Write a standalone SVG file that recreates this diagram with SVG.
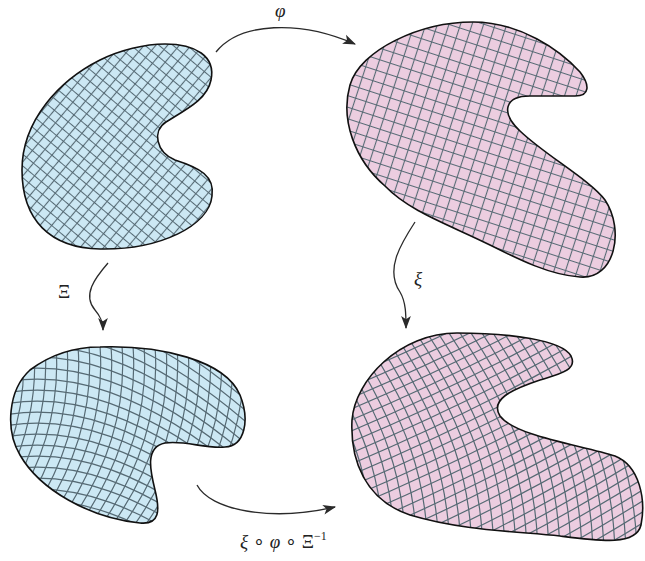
<svg xmlns="http://www.w3.org/2000/svg" xmlns:xlink="http://www.w3.org/1999/xlink" width="645" height="561" viewBox="0 0 645 561">
<style>
.outline{fill:none;stroke:#111;stroke-width:1.6}
.gl{fill:none;stroke:#566a74;stroke-width:1.2}
.conn{fill:none;stroke:#2a2a2a;stroke-width:1.3}
.lbl{font-family:"Liberation Serif",serif;font-size:19px;fill:#222}
.it{font-style:italic}
</style>
<defs>
<path id="s1" d="M 165,44 C 195,44 216,56 211,80 C 207,100 185,110 166,122 C 152,131 156,152 175,160 C 200,168 215,176 212,196 C 209,226 160,250 100,249 C 50,248 22,220 22,170 C 22,120 60,80 100,60 C 120,50 145,44 165,44 Z"/>
<path id="s2" d="M 473,22 C 520,22 560,50 580,72 C 590,85 590,96 575,96 L 530,96 C 505,96 500,112 520,131 C 545,155 590,180 605,200 C 625,230 615,280 580,277 C 550,275 520,260 490,245 C 450,225 410,212 385,186 C 355,160 340,120 350,85 C 360,50 420,22 473,22 Z"/>
<path id="s3" d="M 100,347 C 160,345 225,360 240,395 C 250,420 245,446 225,447 C 205,449 185,440 165,443 C 145,447 150,470 155,490 C 160,510 160,525 140,523 C 90,518 40,490 20,455 C 5,430 8,390 30,370 C 50,355 75,347 100,347 Z"/>
<path id="s4" d="M 457,333 C 510,333 562,340 571,356 C 578,370 560,374 540,380 C 510,390 490,400 500,416 C 515,436 580,445 615,456 C 640,466 646,500 641,525 C 636,546 600,541 560,536 C 510,531 460,530 410,515 C 365,500 350,460 352,420 C 355,380 400,333 457,333 Z"/>
<clipPath id="c3"><use xlink:href="#s3"/></clipPath>
<clipPath id="c4"><use xlink:href="#s4"/></clipPath>
<pattern id="g1" width="9" height="9" patternUnits="userSpaceOnUse" patternTransform="rotate(40)">
<rect width="9" height="9" fill="#cce8f4"/><path d="M0,4.5H9M4.5,0V9" stroke="#566a74" stroke-width="1.1"/>
</pattern>
<pattern id="g2" width="11" height="11" patternUnits="userSpaceOnUse" patternTransform="rotate(18)">
<rect width="11" height="11" fill="#eccde0"/><path d="M0,5.5H11M5.5,0V11" stroke="#566a74" stroke-width="1.1"/>
</pattern>
<path id="a3" class="gl" d="M 0,335 Q 12,440 -60,535"/>
<path id="b3" class="gl" d="M -20,0 C 60,-25 150,0 270,110"/>
<path id="a4" class="gl" d="M 0,560 C 0,480 -20,420 -80,330"/>
<path id="b4" class="gl" d="M 330,0 C 450,-50 550,-100 660,-170"/>
<marker id="ah" viewBox="0 0 12 10" refX="11" refY="5" markerWidth="13" markerHeight="11" markerUnits="userSpaceOnUse" orient="auto">
<path d="M0,0.5 L12,5 L0,9.5 L3,5 Z" fill="#2a2a2a"/>
</marker>
</defs>

<g id="node-top-left">
<use xlink:href="#s1" fill="url(#g1)"/>
<use xlink:href="#s1" class="outline"/>
</g>

<g id="node-top-right">
<use xlink:href="#s2" fill="url(#g2)"/>
<use xlink:href="#s2" class="outline"/>
</g>

<g id="node-bottom-left">
<use xlink:href="#s3" fill="#cce8f4"/>
<g clip-path="url(#c3)">
<use xlink:href="#a3" x="0"/><use xlink:href="#a3" x="11"/><use xlink:href="#a3" x="22"/><use xlink:href="#a3" x="33"/><use xlink:href="#a3" x="44"/><use xlink:href="#a3" x="55"/><use xlink:href="#a3" x="66"/><use xlink:href="#a3" x="77"/><use xlink:href="#a3" x="88"/><use xlink:href="#a3" x="99"/><use xlink:href="#a3" x="110"/><use xlink:href="#a3" x="121"/><use xlink:href="#a3" x="132"/><use xlink:href="#a3" x="143"/><use xlink:href="#a3" x="154"/><use xlink:href="#a3" x="165"/><use xlink:href="#a3" x="176"/><use xlink:href="#a3" x="187"/><use xlink:href="#a3" x="198"/><use xlink:href="#a3" x="209"/><use xlink:href="#a3" x="220"/><use xlink:href="#a3" x="231"/><use xlink:href="#a3" x="242"/><use xlink:href="#a3" x="253"/><use xlink:href="#a3" x="264"/><use xlink:href="#a3" x="275"/><use xlink:href="#a3" x="286"/><use xlink:href="#a3" x="297"/><use xlink:href="#a3" x="308"/>
<use xlink:href="#b3" y="300"/><use xlink:href="#b3" y="311"/><use xlink:href="#b3" y="322"/><use xlink:href="#b3" y="333"/><use xlink:href="#b3" y="344"/><use xlink:href="#b3" y="355"/><use xlink:href="#b3" y="366"/><use xlink:href="#b3" y="377"/><use xlink:href="#b3" y="388"/><use xlink:href="#b3" y="399"/><use xlink:href="#b3" y="410"/><use xlink:href="#b3" y="421"/><use xlink:href="#b3" y="432"/><use xlink:href="#b3" y="443"/><use xlink:href="#b3" y="454"/><use xlink:href="#b3" y="465"/><use xlink:href="#b3" y="476"/><use xlink:href="#b3" y="487"/><use xlink:href="#b3" y="498"/><use xlink:href="#b3" y="509"/><use xlink:href="#b3" y="520"/><use xlink:href="#b3" y="531"/>
<use xlink:href="#b3" y="289"/><use xlink:href="#b3" y="278"/><use xlink:href="#b3" y="267"/><use xlink:href="#b3" y="256"/><use xlink:href="#b3" y="245"/><use xlink:href="#b3" y="234"/>
</g>
<use xlink:href="#s3" class="outline"/>
</g>

<g id="node-bottom-right">
<use xlink:href="#s4" fill="#eccde0"/>
<g clip-path="url(#c4)">
<use xlink:href="#a4" x="340"/><use xlink:href="#a4" x="351"/><use xlink:href="#a4" x="362"/><use xlink:href="#a4" x="373"/><use xlink:href="#a4" x="384"/><use xlink:href="#a4" x="395"/><use xlink:href="#a4" x="406"/><use xlink:href="#a4" x="417"/><use xlink:href="#a4" x="428"/><use xlink:href="#a4" x="439"/><use xlink:href="#a4" x="450"/><use xlink:href="#a4" x="461"/><use xlink:href="#a4" x="472"/><use xlink:href="#a4" x="483"/><use xlink:href="#a4" x="494"/><use xlink:href="#a4" x="505"/><use xlink:href="#a4" x="516"/><use xlink:href="#a4" x="527"/><use xlink:href="#a4" x="538"/><use xlink:href="#a4" x="549"/><use xlink:href="#a4" x="560"/><use xlink:href="#a4" x="571"/><use xlink:href="#a4" x="582"/><use xlink:href="#a4" x="593"/><use xlink:href="#a4" x="604"/><use xlink:href="#a4" x="615"/><use xlink:href="#a4" x="626"/><use xlink:href="#a4" x="637"/><use xlink:href="#a4" x="648"/><use xlink:href="#a4" x="659"/><use xlink:href="#a4" x="670"/><use xlink:href="#a4" x="681"/>
<use xlink:href="#b4" y="330"/><use xlink:href="#b4" y="341"/><use xlink:href="#b4" y="352"/><use xlink:href="#b4" y="363"/><use xlink:href="#b4" y="374"/><use xlink:href="#b4" y="385"/><use xlink:href="#b4" y="396"/><use xlink:href="#b4" y="407"/><use xlink:href="#b4" y="418"/><use xlink:href="#b4" y="429"/><use xlink:href="#b4" y="440"/><use xlink:href="#b4" y="451"/><use xlink:href="#b4" y="462"/><use xlink:href="#b4" y="473"/><use xlink:href="#b4" y="484"/><use xlink:href="#b4" y="495"/><use xlink:href="#b4" y="506"/><use xlink:href="#b4" y="517"/><use xlink:href="#b4" y="528"/><use xlink:href="#b4" y="539"/><use xlink:href="#b4" y="550"/><use xlink:href="#b4" y="561"/><use xlink:href="#b4" y="572"/><use xlink:href="#b4" y="583"/><use xlink:href="#b4" y="594"/><use xlink:href="#b4" y="605"/><use xlink:href="#b4" y="616"/><use xlink:href="#b4" y="627"/><use xlink:href="#b4" y="638"/><use xlink:href="#b4" y="649"/><use xlink:href="#b4" y="660"/><use xlink:href="#b4" y="671"/><use xlink:href="#b4" y="682"/><use xlink:href="#b4" y="693"/><use xlink:href="#b4" y="704"/><use xlink:href="#b4" y="715"/>
</g>
<use xlink:href="#s4" class="outline"/>
</g>

<g id="connectors">
<path class="conn" marker-end="url(#ah)" d="M 216,52 C 240,22 300,20 355,44"/>
<path class="conn" marker-end="url(#ah)" d="M 108,263 C 95,278 82,295 95,310 C 101,317 103,322 103,330"/>
<path class="conn" marker-end="url(#ah)" d="M 415,222 C 400,245 385,270 400,292 C 406,302 406,315 406,328"/>
<path class="conn" marker-end="url(#ah)" d="M 197,485 C 210,510 270,522 335,507"/>
</g>

<g id="labels">
<text class="lbl it" x="275" y="17">φ</text>
<text class="lbl" x="58" y="298">Ξ</text>
<text class="lbl it" x="414" y="285">ξ</text>
<text class="lbl" x="240" y="548" font-size="18"><tspan class="it">ξ</tspan> ∘ <tspan class="it">φ</tspan> ∘ Ξ<tspan font-size="12" dy="-8">−1</tspan></text>
</g>
</svg>
